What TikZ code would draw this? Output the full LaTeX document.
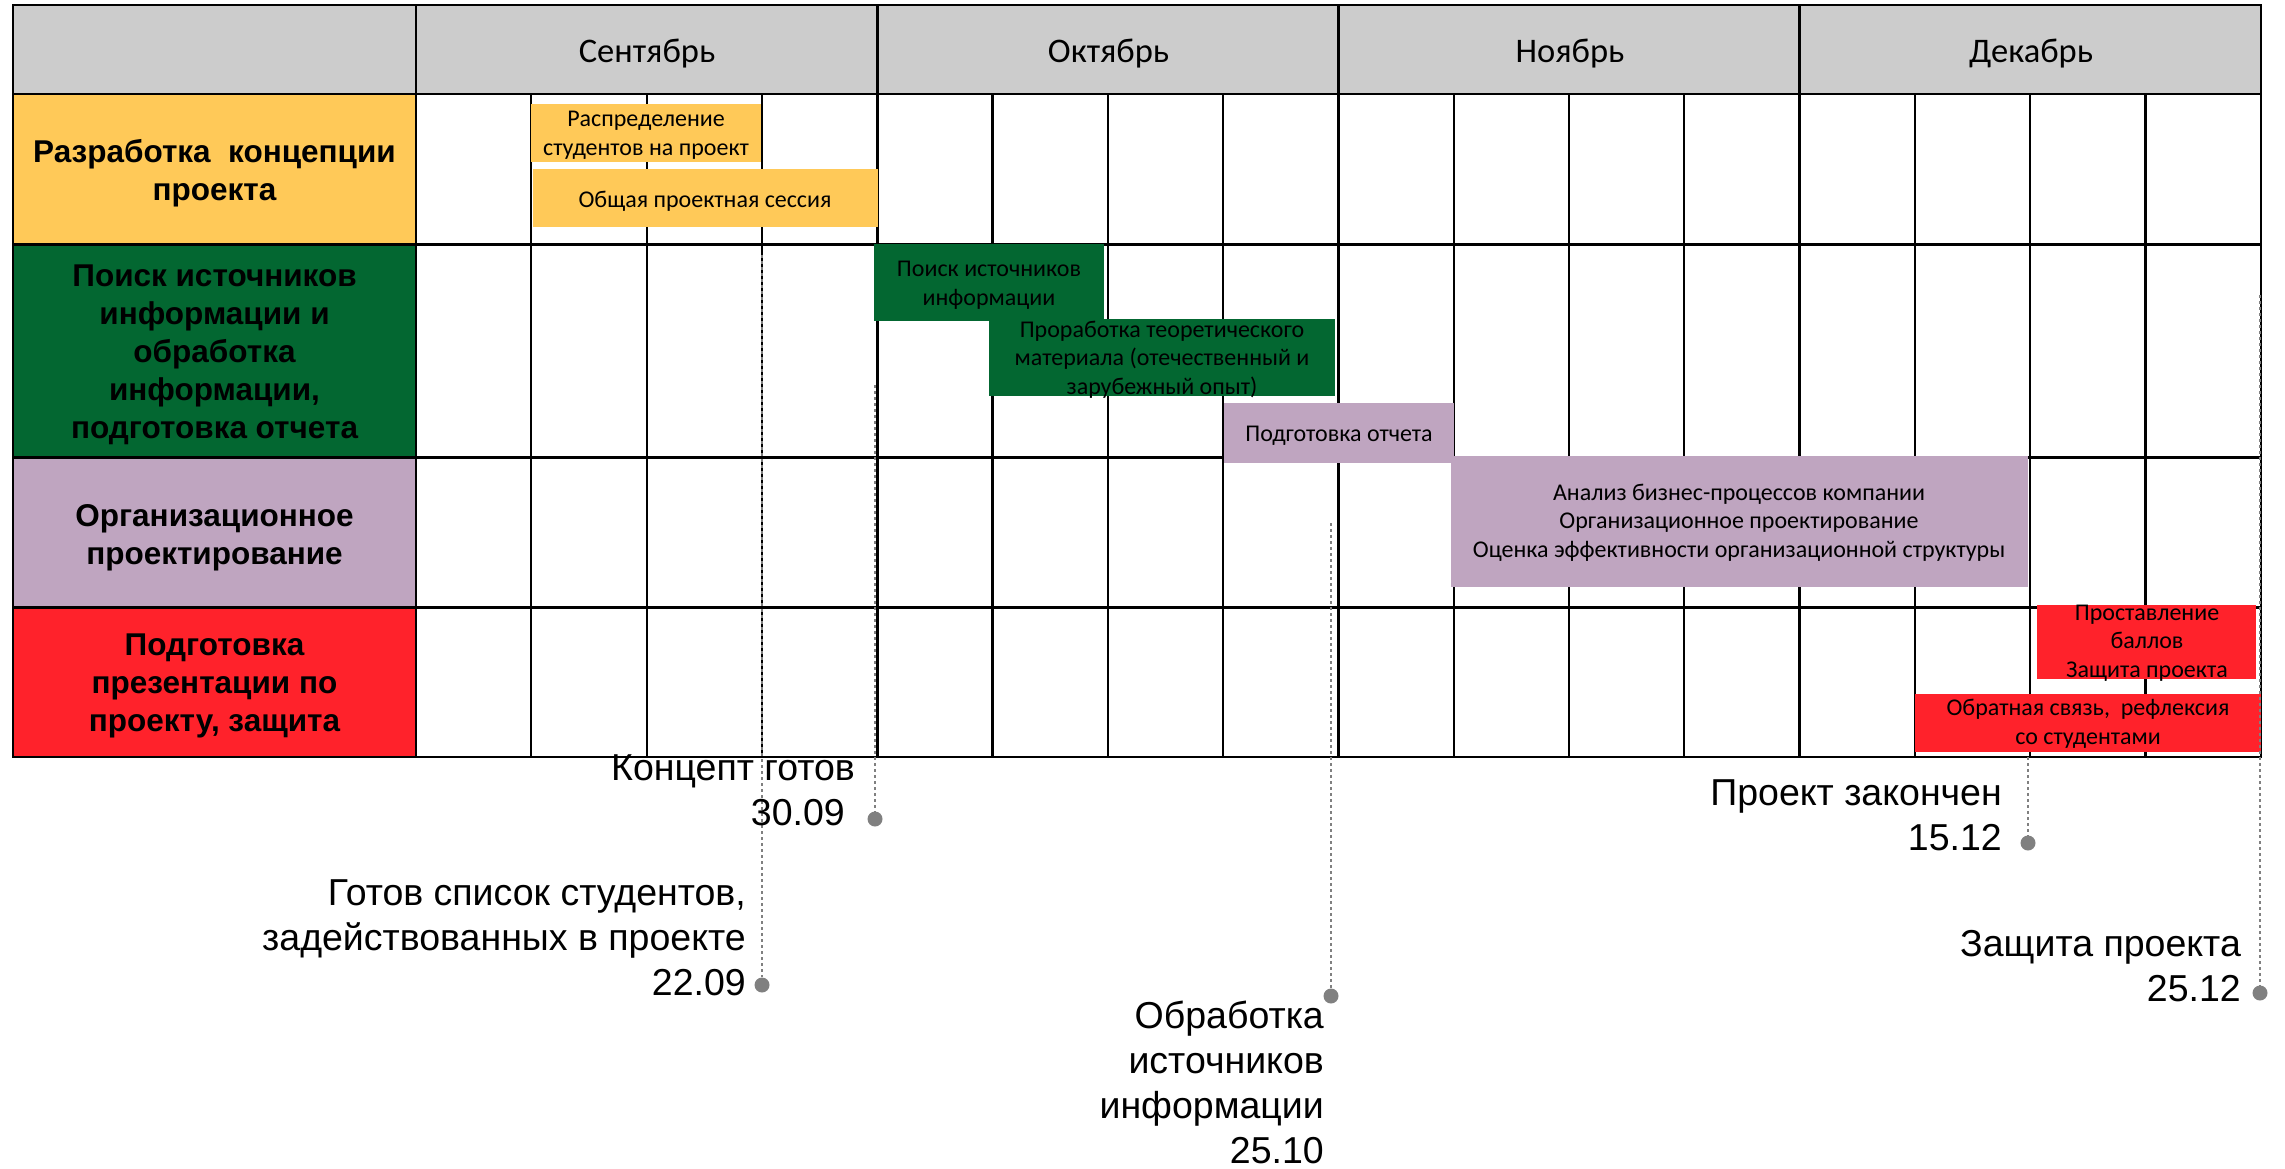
\documentclass[tikz,border=0pt]{standalone}
\usepackage{fontspec}
\setmainfont{Liberation Sans}
\newfontfamily\arialfont{Liberation Sans}
\newfontfamily\calfont{Carlito}
\definecolor{hdr}{HTML}{CCCCCC}
\definecolor{cyel}{HTML}{FFC958}
\definecolor{cgrn}{HTML}{036731}
\definecolor{clil}{HTML}{BFA5C0}
\definecolor{cred}{HTML}{FF222B}
\definecolor{cdot}{HTML}{808080}
\begin{document}
\begin{tikzpicture}[x=1pt,y=-1pt,
  lbl/.style={font=\arialfont\bfseries\fontsize{31.5}{38}\selectfont, align=center, text=black, inner sep=0pt, anchor=base},
  bar/.style={anchor=north west, inner sep=0pt, outer sep=0pt},
  bartxt/.style={font=\calfont\fontsize{24}{28.5}\selectfont, align=center, text=black, inner sep=0pt, anchor=base},
  mon/.style={font=\calfont\fontsize{34.5}{40}\selectfont, inner sep=0pt, anchor=base},
  ms/.style={font=\arialfont\fontsize{37.5}{45}\selectfont, align=right, inner sep=0pt, anchor=base east},
  wk/.style={line width=2.2pt, black},
  rowline/.style={line width=2.6pt, black},
  dotline/.style={draw=cdot, line width=2pt, dash pattern=on 2.5pt off 3.5pt},
  msdot/.style={circle, fill=cdot, inner sep=0pt, minimum size=15pt}
]
\useasboundingbox (0,0) rectangle (2285,1168);
% fills
\fill[hdr] (13,5) rectangle (2261,94);
\fill[cyel] (13,94) rectangle (416,244.5);
\fill[cgrn] (13,244.5) rectangle (416,457.5);
\fill[clil] (13,457.5) rectangle (416,607.5);
\fill[cred] (13,607.5) rectangle (416,757);
% week lines
\foreach \k in {1,2,3,5,6,7,9,10,11,13,14,15}{
  \pgfmathsetmacro\xx{416+115.3*\k}
  \draw[wk] (\xx,94) -- (\xx,757);
}
\foreach \k in {0,4,8,12}{
  \pgfmathsetmacro\xx{416+115.3*\k}
  \draw[rowline] (\xx,5) -- (\xx,757);
}
\foreach \yy in {94,244.5,457.5,607.5}{
  \draw[rowline] (13,\yy) -- (2261,\yy);
}
\draw[rowline] (13,5) rectangle (2261,757);
% month headers
\node[mon] (m1) at (647,62) {Сентябрь};
\node[mon] (m2) at (1108.5,62) {Октябрь};
\node[mon] (m3) at (1570,62) {Ноябрь};
\node[mon] (m4) at (2031,62) {Декабрь};
% row labels
\node[lbl] (r1) at (214.5,200) {Разработка\ \ концепции\\проекта};
\node[lbl] (r2) at (214.5,438.5) {Поиск источников\\информации и\\обработка\\информации,\\подготовка отчета};
\node[lbl] (r3) at (214.5,564) {Организационное\\проектирование};
\node[lbl] (r4) at (214.5,731.5) {Подготовка\\презентации по\\проекту, защита};
% bars
\node[bar, fill=cyel, minimum width=230pt, minimum height=58pt] (b1) at (531,104) {};
\node[bar, fill=cyel, minimum width=345pt, minimum height=58pt] (b2) at (533,169) {};
\node[bar, fill=cgrn, minimum width=346pt, minimum height=77pt] (b4) at (989,319) {};
\node[bar, fill=cgrn, minimum width=230pt, minimum height=77pt] (b3) at (874,244) {};
\node[bar, fill=clil, minimum width=577pt, minimum height=131pt] (b6) at (1451,456) {};
\node[bar, fill=clil, minimum width=230pt, minimum height=60pt] (b5) at (1224,403) {};
\node[bar, fill=cred, minimum width=219pt, minimum height=74pt] (b7) at (2037,605) {};
\node[bar, fill=cred, minimum width=346pt, minimum height=58pt] (b8) at (1915,694) {};
\node[bartxt] (bt1) at (646,155) {Распределение\\студентов на проект};
\node[bartxt] (bt2) at (705,207) {Общая проектная сессия};
\node[bartxt] (bt3) at (989,305) {Поиск источников\\информации};
\node[bartxt] (bt4) at (1162,394) {Проработка теоретического\\материала (отечественный и\\зарубежный опыт)};
\node[bartxt] (bt5) at (1339,441) {Подготовка отчета};
\node[bartxt] (bt6) at (1739,557) {Анализ бизнес-процессов компании\\Организационное проектирование\\Оценка эффективности организационной структуры};
\node[bartxt] (bt7) at (2147,677) {Проставление\\баллов\\Защита проекта};
\node[bartxt] (bt8) at (2088,744) {Обратная связь,\ \ рефлексия\\со студентами};
% milestones
\coordinate (t1) at (875,385);
\coordinate (t2) at (762,255);
\coordinate (t3) at (1331,523);
\coordinate (t4) at (2028,757);
\coordinate (t5) at (2260,295);
\node[msdot] (d1) at (875,819) {};
\node[msdot] (d2) at (762,985) {};
\node[msdot] (d3) at (1331,996) {};
\node[msdot] (d4) at (2028,843) {};
\node[msdot] (d5) at (2260,993) {};
\draw[dotline] (t1) -- (d1);
\draw[dotline] (t2) -- (d2);
\draw[dotline] (t3) -- (d3);
\draw[dotline] (t4) -- (d4);
\draw[dotline] (t5) -- (d5);
\node[ms] (l1) at (855,825) {Концепт готов\\30.09\hspace*{10pt}};
\node[ms] (l2) at (746,995) {Готов список студентов,\\задействованных в проекте\\22.09};
\node[ms] (l3) at (1324,1163) {Обработка\\источников\\информации\\25.10};
\node[ms] (l4) at (2002,850) {Проект закончен\\15.12};
\node[ms] (l5) at (2241,1001) {Защита проекта\\25.12};
\end{tikzpicture}
\end{document}
